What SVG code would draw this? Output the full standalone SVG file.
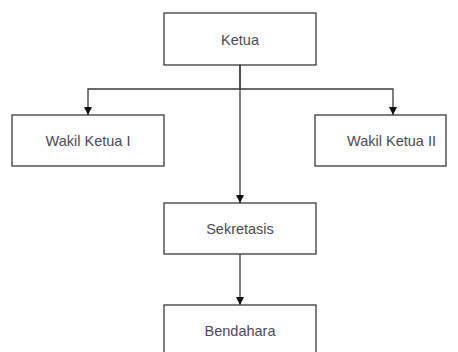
<svg xmlns="http://www.w3.org/2000/svg" width="458" height="352" viewBox="0 0 458 352">
<style>
.box{fill:#fff;stroke:#3a3a3a;stroke-width:1.3}
.lbl{font-family:"Liberation Sans",Arial,sans-serif;font-size:14.5px;fill:#4a4a55;text-anchor:middle;dominant-baseline:central}
.edge{fill:none;stroke:#3a3a3a;stroke-width:1.3}
</style>
<defs>
<marker id="arr" viewBox="0 0 10 10" refX="10" refY="5" markerWidth="8" markerHeight="8" markerUnits="userSpaceOnUse" orient="auto">
<path d="M0,0 L10,5 L0,10 z" fill="#111"/>
</marker>
</defs>
<rect width="458" height="352" fill="#fff"/>
<g id="connectors">
<path class="edge" d="M240,65 V89 H88 V115" marker-end="url(#arr)"/>
<path class="edge" d="M240,89 H393 V115" marker-end="url(#arr)"/>
<path class="edge" d="M240,65 V203" marker-end="url(#arr)"/>
<path class="edge" d="M240,254 V305" marker-end="url(#arr)"/>
</g>
<g id="ketua"><rect class="box" x="164" y="13" width="152" height="52"/><text class="lbl" x="240" y="40">Ketua</text></g>
<g id="wakil1"><rect class="box" x="12" y="115" width="152" height="51"/><text class="lbl" x="88" y="140.5">Wakil Ketua I</text></g>
<g id="wakil2"><rect class="box" x="315" y="115" width="131" height="51"/><text class="lbl" x="391.5" y="140.5">Wakil Ketua II</text></g>
<g id="sekretasis"><rect class="box" x="164" y="203" width="152" height="51"/><text class="lbl" x="240" y="229">Sekretasis</text></g>
<g id="bendahara"><rect class="box" x="164" y="305" width="152" height="52"/><text class="lbl" x="240" y="331">Bendahara</text></g>
</svg>
